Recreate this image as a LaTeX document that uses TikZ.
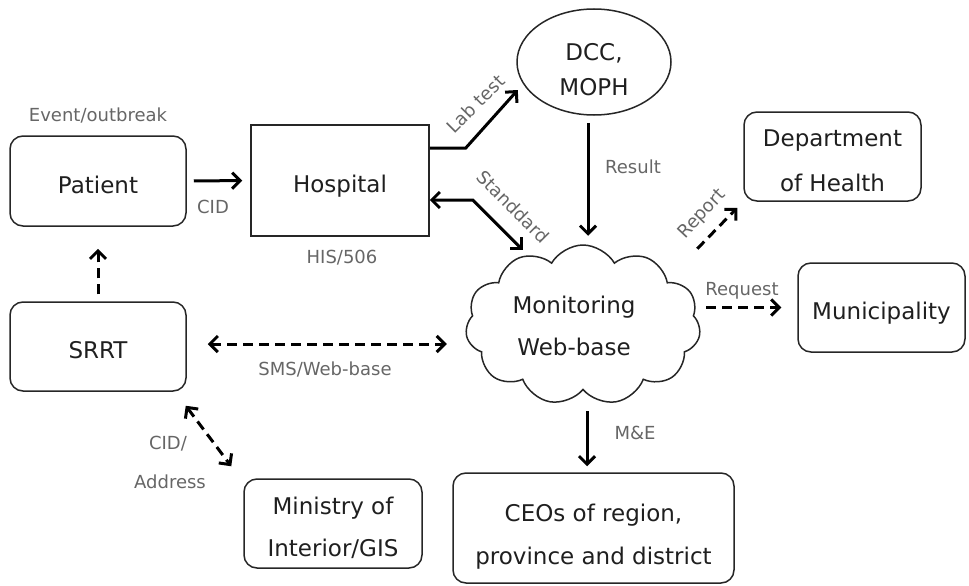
\documentclass[tikz,border=0pt]{standalone}
\usepackage{fontspec}
\setmainfont{DejaVu Sans}
\usetikzlibrary{arrows.meta,shapes.geometric,shapes.symbols,calc}
\begin{document}
\begin{tikzpicture}[x=1pt,y=-1pt,
  box/.style={draw=black!85, line width=1.5pt, rounded corners=13pt, inner sep=0pt,
    font=\fontsize{23}{28}\selectfont, text=black!88},
  sqbox/.style={draw=black!85, line width=1.5pt, inner sep=0pt,
    font=\fontsize{23}{28}\selectfont, text=black!88},
  oneline/.style={text height=24pt, text depth=0pt},
  lab/.style={font=\fontsize{18}{20}\selectfont, text=black!60, text height=13pt, text depth=0pt, inner sep=0pt},
  tip/.tip={Straight Barb[length=8pt,width=16pt,line width=3pt]},
  arr/.style={line width=3pt, -tip},
  darr/.style={arr, -tip, dash pattern=on 10pt off 6pt},
  ddarr/.style={line width=3pt, tip-tip, dash pattern=on 10pt off 6pt},
  sdarr/.style={line width=3pt, tip-tip},
]
\useasboundingbox (0,0) rectangle (969,586);

% nodes
\node[box,oneline,minimum width=176pt,minimum height=90pt] (patient) at (98,181) {Patient};
\node[sqbox,oneline,minimum width=178pt,minimum height=111pt] (hosp) at (340,180.5) {Hospital};
\node[draw=black!85, line width=1.5pt, ellipse, inner sep=0pt, minimum width=154pt, minimum height=106pt,
  align=center, font=\fontsize{23}{35}\selectfont, text=black!88, text height=66.8pt, text depth=0pt] (dcc) at (594,62) {DCC,\\MOPH};
\node[box, minimum width=177pt, minimum height=89pt, align=center, font=\fontsize{23}{45}\selectfont,
  text height=69.8pt, text depth=0pt] (dept) at (832.5,156.5) {Department\\of Health};
\node[draw=black!85, line width=1.5pt, cloud, cloud puffs=11, cloud puff arc=120, aspect=1.47,
  minimum width=235pt, minimum height=160pt, inner sep=0pt] (cloud) at (583,325) {};
\node[font=\fontsize{23}{42}\selectfont, align=center, text=black!88, inner sep=0pt] (cloudtxt) at (574,326) {Monitoring\\Web-base};
\node[box,oneline,minimum width=167pt,minimum height=89pt] (muni) at (881.5,307.5) {Municipality};
\node[box,oneline,minimum width=176pt,minimum height=89pt] (srrt) at (98,346.5) {SRRT};
\node[box, minimum width=178pt, minimum height=89pt, align=center, font=\fontsize{23}{42.5}\selectfont,
  text height=66.3pt, text depth=0pt] (ministry) at (333,523.5) {Ministry of\\Interior/GIS};
\node[box, minimum width=281pt, minimum height=110pt, align=center, font=\fontsize{23}{43}\selectfont,
  text height=72.8pt, text depth=0pt] (ceos) at (593.5,528) {CEOs of region,\\province and district};

% connectors
\draw[arr, shorten <=7pt, shorten >=8pt] (patient) -- (hosp);
\draw[arr] ([yshift=32.5pt]hosp.east) -- ++(36,0) -- ++(52,-58);
\draw[sdarr] ([yshift=-19.5pt]hosp.east) -- ++(43,0) -- ++(50,50);
\draw[arr] ([xshift=-6pt,yshift=-7pt]dcc.south) -- ++(0,113);
\draw[darr] ([xshift=-46pt,yshift=-47pt]dept.south west) -- ([xshift=-6pt,yshift=-6pt]dept.south west);
\draw[darr] ([xshift=-91pt]muni.west) -- ([xshift=-16pt]muni.west);
\draw[ddarr] ([xshift=21pt,yshift=2.5pt]srrt.east) -- ++(239,0);
\draw[darr] ([yshift=7pt]srrt.north) -- ([yshift=-22pt]patient.south);
\draw[ddarr] ([xshift=-1pt,yshift=-14pt]srrt.south east) -- ([xshift=-12pt,yshift=12pt]ministry.north west);
\draw[arr] ([xshift=-6.5pt,yshift=61pt]ceos.north) -- ([xshift=-6.5pt,yshift=6pt]ceos.north);

% labels
\node[lab] (levent) at (98,115) {Event/outbreak};
\node[lab] (lcid) at (213,207) {CID};
\node[lab] (lhis) at (342,257) {HIS/506};
\node[lab, rotate=45] (llab) at (476,104) {Lab test};
\node[lab, rotate=-45] (lstd) at (513,207) {Standdard};
\node[lab] (lres) at (633,167) {Result};
\node[lab, rotate=47] (lrep) at (701,213) {Report};
\node[lab] (lreq) at (742,289) {Request};
\node[lab] (lsms) at (325,369) {SMS/Web-base};
\node[lab] (lcid2) at (168,443) {CID/};
\node[lab] (laddr) at (170,482) {Address};
\node[lab] (lme) at (635,433) {M\&E};
\end{tikzpicture}
\end{document}
